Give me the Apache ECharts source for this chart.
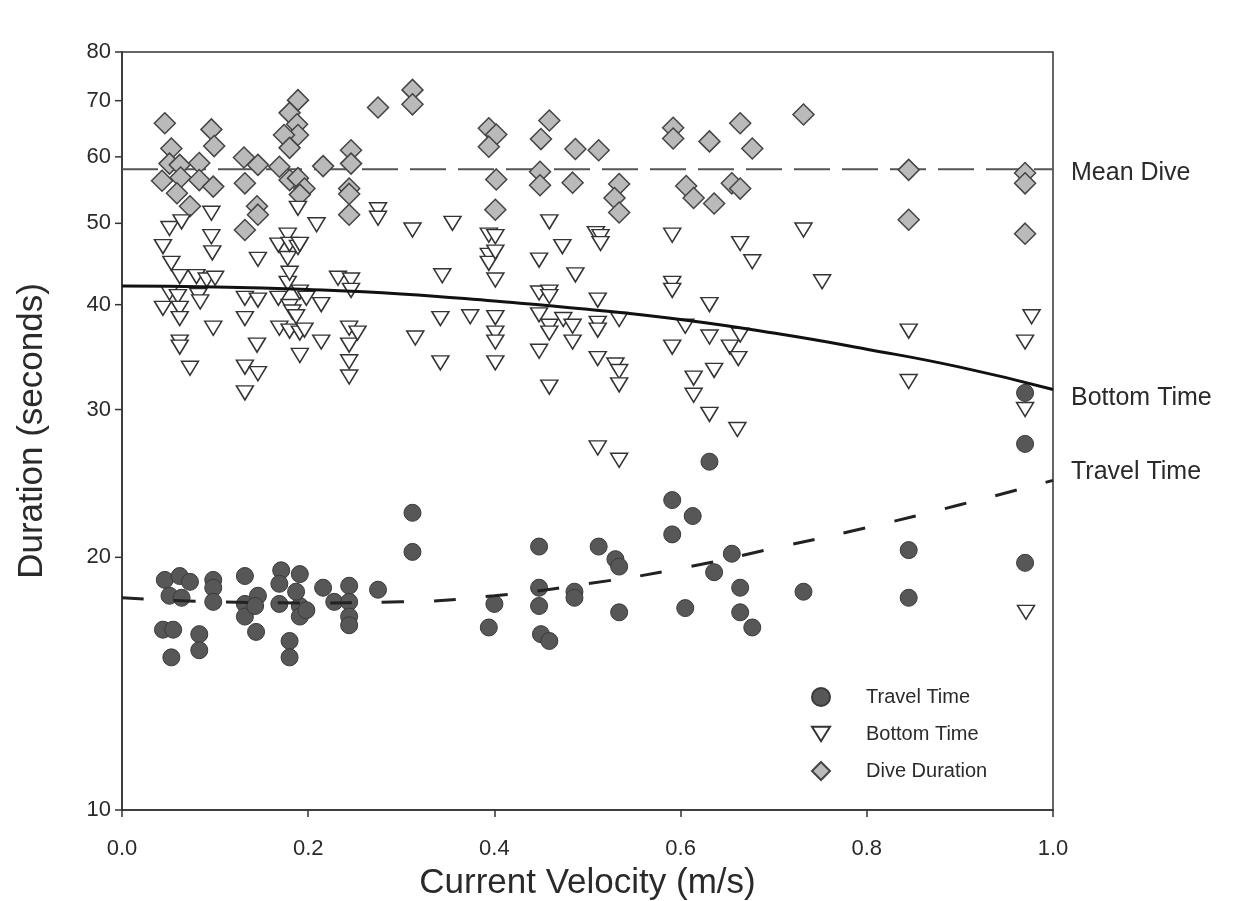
<!DOCTYPE html>
<html><head><meta charset="utf-8">
<script src="https://cdn.jsdelivr.net/npm/echarts@6/dist/echarts.min.js"></script>
<style>html,body{margin:0;padding:0;background:#fff}#c{width:1237px;height:901px}</style>
</head><body><div id="c"></div>
<script>
const yTicks = [10, 20, 30, 40, 50, 60, 70, 80];
const legendNames = ['Travel Time', 'Bottom Time', 'Dive Duration'];

const diveDuration = [
 [0.046,65.8],[0.053,61.4],[0.051,58.9],[0.062,58.7],[0.043,56.2],[0.063,56.7],[0.059,54.3],[0.073,52.4],
 [0.083,59.0],[0.083,56.3],[0.096,64.7],[0.099,61.8],[0.098,55.3],[0.131,59.9],[0.146,58.7],[0.132,55.8],
 [0.145,52.4],[0.146,51.2],[0.132,49.1],[0.189,70.1],[0.180,67.7],[0.188,65.6],[0.189,63.7],[0.174,63.7],
 [0.180,61.5],[0.169,58.4],[0.180,56.3],[0.189,56.6],[0.196,55.0],[0.191,54.1],[0.216,58.5],[0.246,61.1],
 [0.246,58.9],[0.244,55.0],[0.244,54.2],[0.244,51.2],[0.275,68.7],[0.312,72.1],[0.312,69.3],[0.394,64.9],
 [0.402,63.8],[0.394,61.7],[0.402,56.4],[0.401,51.9],[0.459,66.3],[0.450,63.0],[0.449,57.6],[0.449,55.5],
 [0.487,61.3],[0.484,55.9],[0.512,61.1],[0.534,55.7],[0.529,53.6],[0.534,51.5],[0.592,65.0],[0.592,63.1],
 [0.606,55.4],[0.614,53.6],[0.631,62.6],[0.636,52.8],[0.664,65.8],[0.677,61.4],[0.655,55.8],[0.664,55.0],
 [0.732,67.4],[0.845,57.9],[0.845,50.5],[0.970,57.4],[0.970,55.8],[0.970,48.6]
];

const bottomTime = [
 [0.044,46.9],[0.044,39.6],[0.051,49.3],[0.051,41.3],[0.053,44.8],[0.060,40.9],[0.062,43.2],[0.062,39.6],
 [0.062,38.5],[0.062,36.1],[0.062,35.6],[0.064,50.2],[0.073,33.6],[0.080,43.2],[0.082,41.0],[0.084,40.3],
 [0.091,42.8],[0.096,51.4],[0.096,48.2],[0.097,46.1],[0.098,37.5],[0.100,43.0],[0.132,40.7],[0.132,38.5],
 [0.132,33.7],[0.132,31.4],[0.145,35.8],[0.146,45.3],[0.146,40.5],[0.146,33.1],[0.168,47.1],[0.168,40.7],
 [0.169,37.5],[0.178,48.4],[0.178,45.4],[0.178,42.4],[0.180,47.2],[0.180,43.6],[0.180,39.8],[0.180,37.2],
 [0.183,39.2],[0.187,38.7],[0.189,52.1],[0.189,46.8],[0.191,47.2],[0.191,41.4],[0.191,37.0],[0.191,34.8],
 [0.196,37.3],[0.198,40.7],[0.209,49.8],[0.214,40.0],[0.214,36.1],[0.232,43.0],[0.244,37.5],[0.244,35.8],
 [0.244,34.2],[0.244,32.8],[0.246,42.8],[0.246,41.6],[0.253,37.0],[0.275,51.9],[0.275,50.7],[0.312,49.1],
 [0.315,36.5],[0.342,38.5],[0.342,34.1],[0.344,43.3],[0.355,50.0],[0.374,38.7],[0.394,48.4],[0.394,45.8],
 [0.394,44.8],[0.401,48.2],[0.401,46.2],[0.401,42.8],[0.401,38.6],[0.401,37.0],[0.401,36.1],[0.401,34.1],
 [0.448,45.2],[0.448,41.3],[0.448,38.9],[0.448,35.2],[0.459,50.2],[0.459,41.4],[0.459,40.9],[0.459,37.7],
 [0.459,37.0],[0.459,31.9],[0.473,46.9],[0.474,38.4],[0.484,37.7],[0.484,36.1],[0.487,43.4],[0.509,48.6],
 [0.511,40.5],[0.511,38.0],[0.511,37.3],[0.511,34.5],[0.511,27.0],[0.514,48.2],[0.514,47.3],[0.530,33.9],
 [0.534,38.4],[0.534,33.3],[0.534,32.1],[0.534,26.1],[0.591,48.4],[0.591,42.4],[0.591,41.6],[0.591,35.6],
 [0.605,37.7],[0.614,32.7],[0.614,31.2],[0.631,40.0],[0.631,36.6],[0.631,29.6],[0.636,33.4],[0.653,35.6],
 [0.661,28.4],[0.662,34.5],[0.664,47.3],[0.664,36.8],[0.677,45.0],[0.732,49.1],[0.752,42.6],[0.845,37.2],
 [0.845,32.4],[0.970,36.1],[0.970,30.0],[0.977,38.7],[0.971,17.2]
];

const travelTime = [
 [0.046,18.8],[0.062,19.0],[0.073,18.7],[0.051,18.0],[0.064,17.9],[0.098,18.8],[0.098,18.4],[0.098,17.7],
 [0.044,16.4],[0.055,16.4],[0.053,15.2],[0.083,16.2],[0.083,15.5],[0.132,19.0],[0.132,17.6],[0.132,17.0],
 [0.146,18.0],[0.143,17.5],[0.144,16.3],[0.171,19.3],[0.191,19.1],[0.191,17.5],[0.191,17.0],[0.169,18.6],
 [0.169,17.6],[0.187,18.2],[0.198,17.3],[0.180,15.9],[0.180,15.2],[0.216,18.4],[0.228,17.7],[0.244,18.5],
 [0.244,17.7],[0.244,17.0],[0.244,16.6],[0.312,22.6],[0.312,20.3],[0.275,18.3],[0.400,17.6],[0.394,16.5],
 [0.448,20.6],[0.448,18.4],[0.448,17.5],[0.450,16.2],[0.459,15.9],[0.486,18.2],[0.486,17.9],[0.512,20.6],
 [0.530,19.9],[0.534,19.5],[0.534,17.2],[0.591,23.4],[0.591,21.3],[0.613,22.4],[0.605,17.4],[0.631,26.0],
 [0.655,20.2],[0.636,19.2],[0.664,18.4],[0.664,17.2],[0.677,16.5],[0.732,18.2],[0.845,20.4],[0.845,17.9],
 [0.970,19.7],[0.970,31.4],[0.970,27.3]
];

const meanDive = [[0, 58], [1, 58]];
const bottomFit = [[0,42.1],[0.1,42.0],[0.2,41.7],[0.3,41.2],[0.4,40.4],[0.5,39.5],[0.6,38.4],[0.7,37.0],[0.8,35.4],[0.9,33.7],[1.0,31.7]];
const travelFit = [[0,17.9],[0.1,17.7],[0.2,17.65],[0.3,17.7],[0.4,18.0],[0.5,18.6],[0.6,19.4],[0.7,20.5],[0.8,21.7],[0.9,23.1],[1.0,24.7]];

const FONT = '"Liberation Sans", Arial, sans-serif';
const TXT = '#2a2a2a';
const chart = echarts.init(document.getElementById('c'));

const option = {
  animation: false,
  backgroundColor: '#fff',
  grid: { left: 122, right: 184, top: 52, bottom: 91, show: true, borderColor: '#333', borderWidth: 1.5,
          containLabel: false, outerBoundsMode: 'none' },
  xAxis: {
    type: 'value', min: 0, max: 1, interval: 0.2,
    axisLine: { lineStyle: { color: '#333', width: 1.5 } },
    axisTick: { length: 7, lineStyle: { color: '#333', width: 1.5 } },
    axisLabel: { formatter: v => v.toFixed(1), fontSize: 22, color: TXT, margin: 28, fontFamily: FONT },
    splitLine: { show: false },
    name: 'Current Velocity (m/s)', nameLocation: 'middle', nameGap: 56,
    nameTextStyle: { fontSize: 35, color: TXT, fontFamily: FONT }
  },
  yAxis: {
    type: 'log', logBase: 10, min: 10, max: 80,
    axisLine: { show: true, lineStyle: { color: '#333', width: 1.5 } },
    axisTick: { show: false }, axisLabel: { show: false }, splitLine: { show: false }, minorTick: { show: false },
    name: 'Duration (seconds)', nameLocation: 'middle', nameGap: 72,
    nameTextStyle: { fontSize: 35, color: TXT, fontFamily: FONT }
  },
  legend: {
    orient: 'vertical', left: 806, top: 682, itemWidth: 18, itemHeight: 18, itemGap: 17,
    textStyle: { fontSize: 20, color: TXT, fontFamily: FONT, padding: [0, 0, 0, 31] },
    data: [
      { name: legendNames[0], icon: 'circle' },
      { name: legendNames[1], icon: 'path://M0,0L20,0L10,16Z' },
      { name: legendNames[2], icon: 'diamond' }
    ]
  },
  series: [
    {
      name: 'Mean Dive', type: 'line', data: meanDive, symbol: 'none', z: 1,
      lineStyle: { color: '#555', width: 2, type: [36, 12] },
      endLabel: { show: true, formatter: 'Mean Dive', distance: 18, offset: [0, 4], fontSize: 25, color: TXT, fontFamily: FONT }
    },
    {
      name: 'Dive Duration', type: 'scatter', data: diveDuration, symbol: 'diamond', symbolSize: [21, 21], z: 2,
      itemStyle: { color: '#bababa', borderColor: '#444', borderWidth: 1.5, opacity: 1 }
    },
    {
      name: 'Bottom Time', type: 'scatter', data: bottomTime, symbol: 'triangle', symbolRotate: 180, symbolSize: [17, 14], z: 3,
      itemStyle: { color: '#fff', borderColor: '#333', borderWidth: 1.5, opacity: 1 }
    },
    {
      name: 'Travel Time', type: 'scatter', data: travelTime, symbol: 'circle', symbolSize: 17, z: 3,
      itemStyle: { color: '#575757', borderColor: '#3a3a3a', borderWidth: 1, opacity: 1 }
    },
    {
      name: 'Bottom Fit', type: 'line', data: bottomFit, symbol: 'none', smooth: true, z: 5,
      lineStyle: { color: '#111', width: 3 },
      endLabel: { show: true, formatter: 'Bottom Time', distance: 18, offset: [0, 9], fontSize: 25, color: TXT, fontFamily: FONT }
    },
    {
      name: 'Travel Fit', type: 'line', data: travelFit, symbol: 'none', smooth: true, z: 5,
      lineStyle: { color: '#222', width: 3, type: [22, 30] },
      endLabel: { show: true, formatter: 'Travel Time', distance: 18, offset: [0, -8], fontSize: 25, color: TXT, fontFamily: FONT }
    }
  ]
};
chart.setOption(option);

const x0 = chart.convertToPixel({ xAxisIndex: 0 }, 0);
const g = [];
yTicks.forEach(v => {
  const p = chart.convertToPixel({ yAxisIndex: 0 }, v);
  g.push({ type: 'line', shape: { x1: x0 - 7, y1: p, x2: x0, y2: p }, style: { stroke: '#333', lineWidth: 1.5 }, silent: true });
  g.push({ type: 'text', x: x0 - 11, y: p, style: { text: String(v), fill: TXT, fontSize: 22, fontFamily: FONT, align: 'right', verticalAlign: 'middle' }, silent: true });
});
chart.setOption({ graphic: g });
</script>
</body></html>
